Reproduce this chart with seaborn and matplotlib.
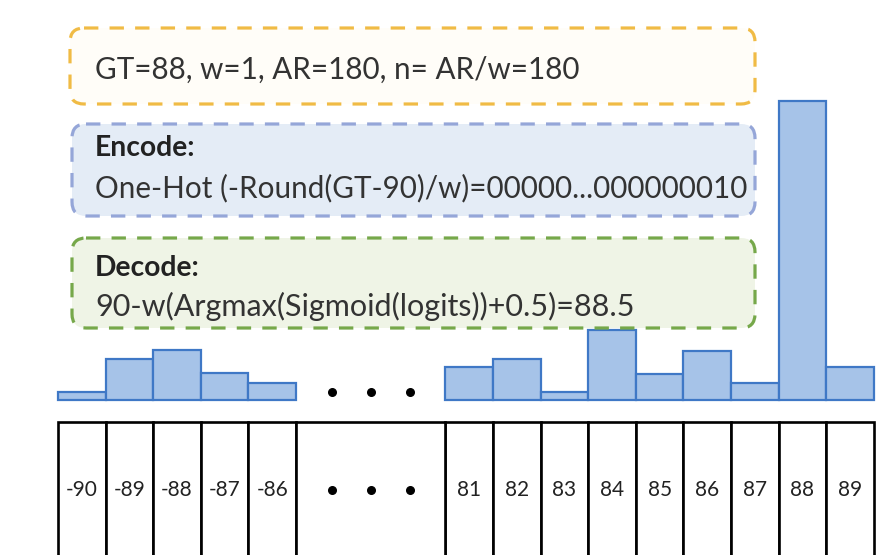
import matplotlib
matplotlib.use("Agg")
import matplotlib.pyplot as plt
from matplotlib.patches import FancyBboxPatch
import seaborn as sns
import pandas as pd

# ---- data ----
left_labels = ["-90", "-89", "-88", "-87", "-86"]
left_values = [8, 41, 50, 27, 17]
right_labels = ["81", "82", "83", "84", "85", "86", "87", "88", "89"]
right_values = [33, 41, 8, 70, 26, 49, 17, 299, 33]

header_text = "GT=88, w=1, AR=180, n= AR/w=180"
encode_title = "Encode:"
encode_text = "One-Hot (-Round(GT-90)/w)=00000...000000010"
decode_title = "Decode:"
decode_text = "90-w(Argmax(Sigmoid(logits))+0.5)=88.5"

sns.set_theme(style="white")
plt.rcParams["font.family"] = ["Lato", "DejaVu Sans"]

# positions: left bins 0..4, gap, right bins after the gap
gap_width = 3.14
left_pos = list(range(len(left_labels)))
gap_pos = 4.5 + gap_width / 2
right_pos = [4.5 + gap_width + 0.5 + i for i in range(len(right_labels))]

df = pd.DataFrame({
    "pos": left_pos + right_pos,
    "value": left_values + right_values,
})

fig = plt.figure(figsize=(8.77, 5.55), dpi=100)
ax = fig.add_axes([0, 0, 1, 1])
unit = 47.6
xlim = (-0.5 - 58 / unit, -0.5 + (877 - 58) / unit)

bar_fill = "#a6c3e8"
bar_edge = "#3f78c6"
sns.barplot(data=df, x="pos", y="value", native_scale=True, width=1,
            color=bar_fill, saturation=1, edgecolor=bar_edge, linewidth=1.6,
            ax=ax, zorder=3)
ax.set_xlim(*xlim)
ax.set_ylim(-155, 400)
ax.axis("off")

# cell row
cell_bottom, cell_top = -175, -22
ax.bar(left_pos + right_pos, [cell_top - cell_bottom] * len(df), width=1,
       bottom=cell_bottom, color="white", edgecolor="black", linewidth=1.9, zorder=2)
ax.bar([gap_pos], [cell_top - cell_bottom], width=gap_width, bottom=cell_bottom,
       color="white", edgecolor="black", linewidth=1.9, zorder=2)
for p, lab in zip(left_pos + right_pos, left_labels + right_labels):
    ax.text(p, -90, lab, ha="center", va="center", fontsize=15, color="#222222")

# ellipsis dots
dot_x = [gap_pos - 0.82, gap_pos, gap_pos + 0.82]
ax.scatter(dot_x, [8] * 3, s=30, color="black", zorder=4)
ax.scatter(dot_x, [-90] * 3, s=30, color="black", zorder=4)

# overlay axes in pixel space for the dashed boxes
ax2 = fig.add_axes([0, 0, 1, 1])
ax2.set_xlim(0, 877)
ax2.set_ylim(555, 0)
ax2.axis("off")
ax2.patch.set_alpha(0)

def dbox(x0, y0, x1, y1, edge, face):
    p = FancyBboxPatch((x0, y0), x1 - x0, y1 - y0,
                       boxstyle="round,pad=0,rounding_size=14",
                       linewidth=2.3, linestyle=(0, (4.5, 3.5)),
                       edgecolor=edge, facecolor=face, zorder=1)
    ax2.add_patch(p)

dbox(70, 28, 755, 104, "#f0bb45", "#fffdf8")
dbox(72, 124, 755, 216, "#95a6d8", "#e4ecf6")
dbox(72, 238, 755, 328, "#76a84a", "#eff4e6")

tc = "#333333"
fs = 21.3
ax2.text(95, 70, header_text, fontsize=fs, color=tc, va="center", ha="left")
ax2.text(95, 148, encode_title, fontsize=fs - 1, color="#222222", va="center", ha="left", fontweight="bold")
ax2.text(95, 188, encode_text, fontsize=fs, color=tc, va="center", ha="left")
ax2.text(95, 268, decode_title, fontsize=fs - 1, color="#222222", va="center", ha="left", fontweight="bold")
ax2.text(95, 306, decode_text, fontsize=fs + 0.7, color=tc, va="center", ha="left")

fig.savefig("out.png", dpi=100)
